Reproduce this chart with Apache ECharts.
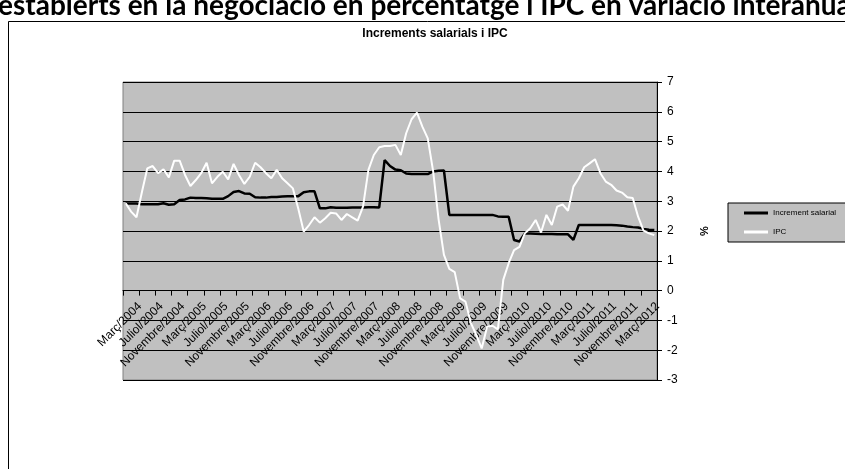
<!DOCTYPE html>
<html>
<head>
<meta charset="utf-8">
<script src="https://cdn.jsdelivr.net/npm/echarts@6/dist/echarts.min.js"></script>
<style>
html,body{margin:0;padding:0;background:#fff;}
#chart{width:845px;height:469px;}
</style>
</head>
<body>
<div id="chart"></div>
<script>
// ---- Data ----
const monthNames = ['Gener','Febrer','Març','Abril','Maig','Juny','Juliol','Agost','Setembre','Octubre','Novembre','Desembre'];
const startYear = 2004, startMonth = 2, monthCount = 99; // Març/2004 .. Maig/2012
const categories = [];
for (let k = 0; k < monthCount; k++) {
  const m = (startMonth + k) % 12;
  const y = startYear + Math.floor((startMonth + k) / 12);
  categories.push(monthNames[m] + '/' + y);
}
const seriesNames = ['Increment salarial', 'IPC'];
const incrementSalarial = [
  2.92,2.92,2.92,2.90,2.90,2.90,2.90,2.93,2.88,2.90,
  3.04,3.06,3.12,3.11,3.11,3.10,3.08,3.08,3.08,3.17,
  3.31,3.34,3.26,3.25,3.13,3.12,3.12,3.14,3.14,3.16,
  3.17,3.17,3.17,3.30,3.33,3.33,2.76,2.76,2.80,2.78,
  2.78,2.78,2.79,2.79,2.79,2.80,2.80,2.79,4.38,4.18,
  4.06,4.04,3.93,3.91,3.91,3.91,3.91,4.00,4.02,4.03,
  2.54,2.54,2.54,2.54,2.54,2.54,2.54,2.54,2.54,2.49,
  2.48,2.48,1.70,1.65,1.92,1.92,1.91,1.90,1.90,1.90,
  1.89,1.89,1.89,1.70,2.20,2.20,2.20,2.20,2.20,2.20,
  2.20,2.19,2.18,2.15,2.13,2.12,2.07,2.04,2.03
];
const ipc = [
  2.93,2.65,2.46,3.30,4.10,4.18,3.94,4.07,3.80,4.36,
  4.36,3.88,3.51,3.71,3.94,4.29,3.60,3.82,3.99,3.73,
  4.25,3.88,3.58,3.82,4.29,4.14,3.94,3.77,4.05,3.77,
  3.60,3.43,2.75,1.98,2.20,2.46,2.28,2.43,2.61,2.59,
  2.37,2.57,2.46,2.35,2.82,4.05,4.55,4.81,4.85,4.85,
  4.89,4.55,5.28,5.75,5.97,5.50,5.11,4.00,2.40,1.20,
  0.73,0.62,-0.26,-0.37,-1.09,-1.49,-1.94,-1.21,-1.18,-1.30,
  0.36,0.92,1.36,1.47,1.92,2.09,2.37,1.95,2.54,2.20,
  2.82,2.89,2.68,3.49,3.77,4.14,4.27,4.41,3.94,3.66,
  3.55,3.36,3.29,3.13,3.11,2.48,2.01,1.92,1.86
];
const yMin = -3, yMax = 7, yStep = 1;
const chartTitle = 'Increments salarials i IPC';
const pageTitle = 'establerts en la negociació en percentatge i IPC en variació interanual';
const axisUnit = '%';

// ---- Layout ----
const GRID = {left: 123, right: 188, top: 82, bottom: 89};
const H = 469;
const plotH = H - GRID.top - GRID.bottom;
const zeroOffset = -plotH * (0 - yMin) / (yMax - yMin); // move category axis to value 0

// ---- Chart ----
const FONT = '"Liberation Sans", Arial, sans-serif';
const chart = echarts.init(document.getElementById('chart'), null, {renderer: 'canvas'});
chart.setOption({
  animation: false,
  backgroundColor: '#ffffff',
  title: {
    text: chartTitle,
    left: 430, top: 23, textAlign: 'center',
    textStyle: {fontFamily: FONT, fontSize: 12, fontWeight: 'bold', color: '#000'}
  },
  graphic: [
    {type: 'rect', shape: {x: 8.5, y: 21.5, width: 900, height: 500},
     style: {fill: null, stroke: '#000', lineWidth: 1}, silent: true},
    {type: 'text', left: -2, top: -8,
     style: {text: pageTitle, font: 'bold 28px Lato, sans-serif', fill: '#000'}, silent: true}
  ],
  legend: {
    orient: 'vertical', left: 728, top: 203,
    itemWidth: 24, itemHeight: 3, itemGap: 11,
    padding: [6, 16, 6, 16],
    backgroundColor: '#c0c0c0', borderColor: '#000', borderWidth: 1, borderRadius: 0,
    textStyle: {fontFamily: FONT, fontSize: 8, color: '#000'},
    data: [{name: seriesNames[0], icon: 'rect'}, {name: seriesNames[1], icon: 'rect'}]
  },
  grid: Object.assign({show: true, backgroundColor: '#c0c0c0', borderColor: '#808080', borderWidth: 1}, GRID),
  xAxis: {
    type: 'category', data: categories, boundaryGap: true,
    position: 'bottom', offset: zeroOffset,
    axisLine: {onZero: false, lineStyle: {color: '#000', width: 1}},
    axisTick: {show: true, interval: 2, length: 5, lineStyle: {color: '#000'}},
    axisLabel: {interval: 3, rotate: 45, fontFamily: FONT, fontSize: 12, color: '#000',
                margin: 28, padding: [0, -20, 0, 0]},
    splitLine: {show: false}
  },
  yAxis: {
    type: 'value', position: 'right', min: yMin, max: yMax, interval: yStep,
    name: axisUnit, nameLocation: 'middle', nameGap: 42, nameRotate: 90,
    nameTextStyle: {fontFamily: FONT, fontSize: 11, fontWeight: 'bold', color: '#000'},
    axisLine: {show: true, lineStyle: {color: '#000', width: 1}},
    axisTick: {show: true, length: 5, lineStyle: {color: '#000'}},
    axisLabel: {fontFamily: FONT, fontSize: 12, color: '#000', margin: 10},
    splitLine: {show: true, lineStyle: {color: '#000', width: 1}}
  },
  series: [
    {name: seriesNames[0], type: 'line', data: incrementSalarial, symbol: 'none',
     lineStyle: {color: '#000', width: 2.5}, itemStyle: {color: '#000'}},
    {name: seriesNames[1], type: 'line', data: ipc, symbol: 'none',
     lineStyle: {color: '#fff', width: 2}, itemStyle: {color: '#fff'}}
  ]
});
</script>
</body>
</html>
